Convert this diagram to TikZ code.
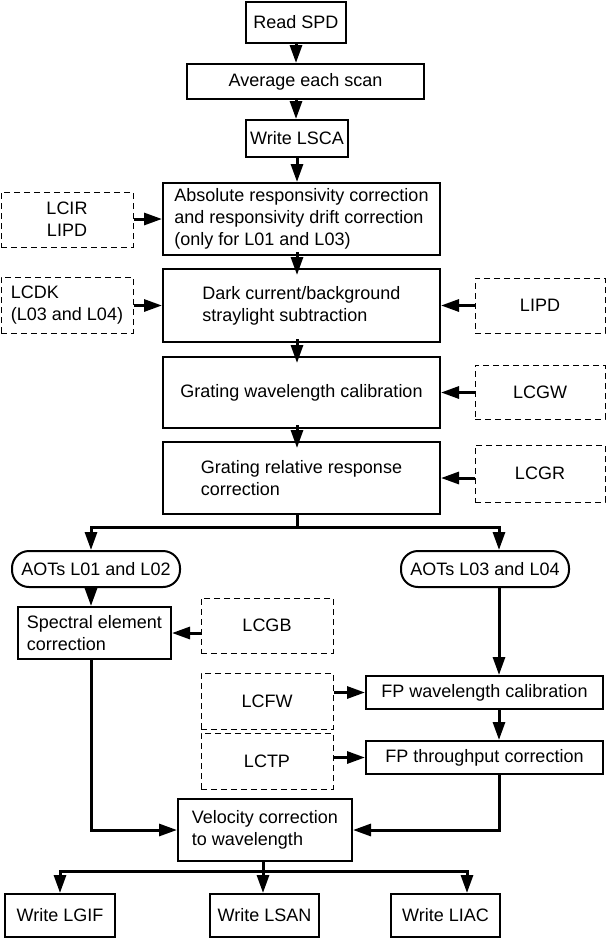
\documentclass[tikz,border=0pt]{standalone}
\usepackage{fontspec}
\setmainfont{Liberation Sans}
\usetikzlibrary{arrows.meta,calc}
\tikzset{
  box/.style={draw, line width=2pt, inner sep=0pt, align=center, font=\fontsize{18}{21.7}\selectfont},
  lbox/.style={box, align=left},
  dbox/.style={draw, line width=1pt, dash pattern=on 6pt off 4pt, inner sep=0pt, align=center, font=\fontsize{18}{21.7}\selectfont},
  ldbox/.style={dbox, align=left},
  rbox/.style={box, rounded corners=17pt},
  arr/.style={line width=3pt, -{Triangle[length=18pt,width=12pt]}},
}
\begin{document}
\begin{tikzpicture}[x=1pt,y=-1pt]
\useasboundingbox (0,0) rectangle (607,938);
% main column
\node[box, minimum width=100pt, minimum height=41pt] (read) at (296,22.5) {Read SPD};
\node[box, minimum width=237pt, minimum height=35pt] (avg) at (305.5,81.5) {Average each scan};
\node[box, minimum width=102pt, minimum height=37pt] (lsca) at (297,138.5) {Write LSCA};
\node[lbox, minimum width=277pt, minimum height=72pt] (abs) at (301.5,219) {Absolute responsivity correction\\and responsivity drift correction\\(only for L01 and L03)};
\node[lbox, minimum width=277pt, minimum height=73pt] (dark) at (301.5,305.5) {Dark current/background\\straylight subtraction};
\node[box, minimum width=277pt, minimum height=71pt] (gwl) at (301.5,392.5) {Grating wavelength calibration};
\node[lbox, minimum width=277pt, minimum height=72pt] (grel) at (301.5,478) {Grating relative response\\correction};
% side inputs
\node[dbox, minimum width=132pt, minimum height=55pt] (lcir) at (67,219.5) {LCIR\\LIPD};
\node[ldbox, minimum width=132pt, minimum height=56pt] (lcdk) at (67,305) {LCDK\\(L03 and L04)};
\node[dbox, minimum width=130pt, minimum height=55pt] (lipd) at (540,305.5) {LIPD};
\node[dbox, minimum width=130pt, minimum height=54pt] (lcgw) at (540,392) {LCGW};
\node[dbox, minimum width=130pt, minimum height=57pt] (lcgr) at (540,473.5) {LCGR};
% branches
\node[rbox, minimum width=168pt, minimum height=36pt] (aot1) at (96,569) {AOTs L01 and L02};
\node[rbox, minimum width=168pt, minimum height=36pt] (aot2) at (485,569) {AOTs L03 and L04};
\node[lbox, minimum width=153pt, minimum height=52pt] (spec) at (94.5,633) {Spectral element\\correction};
\node[dbox, minimum width=132pt, minimum height=55pt] (lcgb) at (267,625.5) {LCGB};
\node[dbox, minimum width=132pt, minimum height=56pt] (lcfw) at (267,701) {LCFW};
\node[dbox, minimum width=132pt, minimum height=56pt] (lctp) at (267,761) {LCTP};
\node[box, minimum width=237pt, minimum height=33pt] (fpwl) at (484.5,692.5) {FP wavelength calibration};
\node[box, minimum width=237pt, minimum height=33pt] (fptp) at (484.5,757.5) {FP throughput correction};
\node[lbox, minimum width=174pt, minimum height=62pt] (vel) at (265,830) {Velocity correction\\to wavelength};
\node[box, minimum width=110pt, minimum height=43pt] (lgif) at (60,915.5) {Write LGIF};
\node[box, minimum width=109pt, minimum height=43pt] (lsan) at (264.5,915.5) {Write LSAN};
\node[box, minimum width=109pt, minimum height=43pt] (liac) at (445.5,915.5) {Write LIAC};
% helper coordinates
\coordinate (bl) at (91,527);
\coordinate (br) at (499,527);
\coordinate (ob) at (263,871);
\coordinate (o1) at (60,871);
\coordinate (o3) at (467,871);
% main chain
\draw[arr] (read.south) -- (read.south |- avg.north);
\draw[arr] (read.south |- avg.south) -- (read.south |- lsca.north);
\draw[arr] (lsca.south) -- (lsca.south |- abs.north);
\draw[arr] ($(lsca.south |- abs.south)+(0,-4)$) -- ($(lsca.south |- dark.north)+(0,7)$);
\draw[arr] ($(lsca.south |- dark.south)+(0,-4)$) -- ($(lsca.south |- gwl.north)+(0,7)$);
\draw[arr] ($(lsca.south |- gwl.south)+(0,-4)$) -- ($(lsca.south |- grel.north)+(0,7)$);
% side inputs
\draw[arr] (lcir.east |- abs.west) -- (abs.west);
\draw[arr] (lcdk.east |- dark.west) -- (dark.west);
\draw[arr] (lipd.west |- dark.east) -- (dark.east);
\draw[arr] (lcgw.west |- gwl.east) -- (gwl.east);
\draw[arr] (lcgr.west |- grel.east) -- (grel.east);
% split
\draw[arr] (lsca.south |- grel.south) |- (bl) -- (bl |- aot1.north);
\draw[arr] (lsca.south |- grel.south) |- (br) -- (br |- aot2.north);
% left branch
\draw[arr] (bl |- aot1.south) -- (bl |- spec.north);
\draw[arr] (lcgb.west |- spec.east) -- (spec.east);
\draw[arr] (bl |- spec.south) |- (vel.west);
% right branch
\draw[arr] (br |- aot2.south) -- (br |- fpwl.north);
\draw[arr] (lcfw.east |- fpwl.west) -- (fpwl.west);
\draw[arr] (br |- fpwl.south) -- (br |- fptp.north);
\draw[arr] (lctp.east |- fptp.west) -- (fptp.west);
\draw[arr] (br |- fptp.south) |- (vel.east);
% outputs
\draw[arr] (ob |- vel.south) |- (o1) -- (o1 |- lgif.north);
\draw[arr] (ob |- vel.south) -- (ob |- lsan.north);
\draw[arr] (ob |- vel.south) |- (o3) -- (o3 |- liac.north);
\end{tikzpicture}
\end{document}
